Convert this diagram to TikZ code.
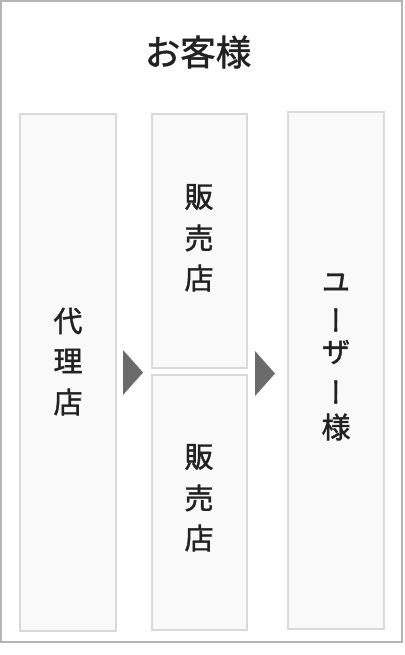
\documentclass[tikz,border=0pt]{standalone}
\usepackage{fontspec}
\newfontfamily\cjk[RawFeature={embolden=1.4}]{Noto Sans CJK JP}
\newfontfamily\cjkv[RawFeature={+vert;embolden=1.4}]{Noto Sans CJK JP}
\definecolor{outerline}{HTML}{B5B5B5}
\definecolor{boxline}{HTML}{D9D9D9}
\definecolor{boxfill}{HTML}{F9F9F9}
\definecolor{arrowfill}{HTML}{6B6B6B}
\definecolor{textcol}{HTML}{222222}
\begin{document}
\begin{tikzpicture}[x=1pt,y=-1pt,
  outer/.style={draw=outerline,line width=2pt,fill=white},
  colbox/.style={draw=boxline,line width=2pt,fill=boxfill},
  arrowtri/.style={fill=arrowfill},
  title/.style={font=\cjk\fontsize{35.5}{35.5}\selectfont,text=textcol,inner sep=0pt},
  ch/.style={font=\cjkv\fontsize{29}{29}\selectfont,text=textcol,inner sep=0pt}]
\useasboundingbox (0,0) rectangle (404,655);
\draw[outer] (1,1) rectangle (402,642);
\node[title] (ttl) at (198,52) {お客様};
% boxes
\draw[colbox] (20,114) rectangle (116,631);
\draw[colbox] (152,114) rectangle (247,368);
\draw[colbox] (152,375) rectangle (247,630);
\draw[colbox] (288,112) rectangle (384,629);
% arrows
\fill[arrowtri] (123,350) -- (143,372.5) -- (123,395) -- cycle;
\fill[arrowtri] (255,351) -- (275,373.5) -- (255,396) -- cycle;
% left column
\node[ch] (a1) at (68,321) {代};
\node[ch] (a2) at (68,361) {理};
\node[ch] (a3) at (68,402) {店};
% middle top
\node[ch] (b1) at (199,197) {販};
\node[ch] (b2) at (199,238) {売};
\node[ch] (b3) at (199,278) {店};
% middle bottom
\node[ch] (c1) at (199,457) {販};
\node[ch] (c2) at (199,498) {売};
\node[ch] (c3) at (199,538) {店};
% right column
\node[ch] (d1) at (336,283) {ユ};
\node[ch] (d2) at (336,320) {ー};
\node[ch] (d3) at (336,352) {ザ};
\node[ch] (d4) at (336,392) {ー};
\node[ch] (d5) at (336,427) {様};
\end{tikzpicture}
\end{document}
